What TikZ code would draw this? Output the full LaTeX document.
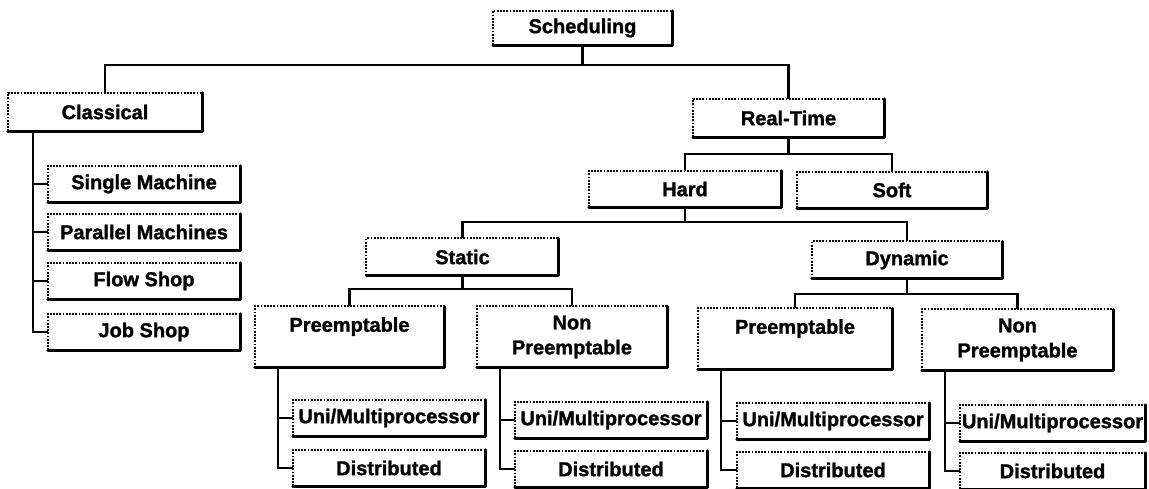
\documentclass[tikz,border=0pt]{standalone}
\usepackage{fontspec}
\setmainfont{Liberation Sans}
\newfontfamily\heavyfont[FakeBold=1.3]{Liberation Sans Bold}
\usepackage{tikz}
\tikzstyle{box}=[minimum width=192pt, minimum height=36pt, inner sep=0pt, align=center, font=\heavyfont\fontsize{20}{25}\selectfont]
\tikzstyle{tallbox}=[box, minimum height=61pt]
\tikzstyle{dotedge}=[line width=1.8pt, dash pattern=on 1.8pt off 1.4pt]
\tikzstyle{shadowedge}=[line width=2.8pt, line cap=round, line join=round]
\tikzstyle{link}=[line width=2.2pt]

\begin{document}
\begin{tikzpicture}[x=1pt, y=-1pt]
                    \useasboundingbox (0,0) rectangle (1149,489);
                    \node[box, minimum width=179pt, minimum height=34pt] (sched) at (582.5, 28) {Scheduling};
                    \node[box, minimum width=194pt, minimum height=38pt] (classic) at (105, 112) {Classical};
                    \node[box, minimum width=191pt, minimum height=38pt] (rt) at (788.5, 118) {Real-Time};
                    % classical list
                    \node[box] (c1) at (144, 184) {Single Machine};
                    \node[box] (c2) at (144, 232) {Parallel Machines};
                    \node[box] (c3) at (144, 281) {Flow Shop};
                    \node[box] (c4) at (144, 332) {Job Shop};
                    % real-time tree
                    \node[box] (hard) at (685, 189) {Hard};
                    \node[box, minimum width=190pt] (soft) at (892, 190) {Soft};
                    \node[box, minimum height=37pt] (stat) at (462.5, 257) {Static};
                    \node[box, minimum height=37pt, minimum width=190pt] (dyn) at (907, 260) {Dynamic};
                    \node[tallbox, minimum width=189pt] (sp)  at (349.5, 337) {Preemptable\\\mbox{}};
                    \node[tallbox, minimum width=190pt] (snp) at (572,   337) {Non\\Preemptable};
                    \node[tallbox, minimum width=194pt] (dp)  at (795,   339) {Preemptable\\\mbox{}};
                    \node[tallbox, minimum width=191pt] (dnp) at (1017.5,340) {Non\\Preemptable};
                    \node[box] (sp1)  at (389,  418) {Uni/Multiprocessor};
                    \node[box] (sp2)  at (389,  468) {Distributed};
                    \node[box] (snp1) at (611,  420) {Uni/Multiprocessor};
                    \node[box] (snp2) at (611,  469) {Distributed};
                    \node[box] (dp1)  at (833,  421) {Uni/Multiprocessor};
                    \node[box] (dp2)  at (833,  470) {Distributed};
                    \node[box, minimum width=185pt] (dnp1) at (1052.5, 423) {Uni/Multiprocessor};
                    \node[box, minimum width=185pt] (dnp2) at (1052.5, 471) {Distributed};
                    % box edges: dotted top and left, heavy right and bottom
                    \foreach \n in {sched,classic,rt,c1,c2,c3,c4,hard,soft,stat,dyn,sp,snp,dp,dnp,sp1,sp2,snp1,snp2,dp1,dp2,dnp1,dnp2} {
                        \draw[dotedge]    (\n.south west) |- (\n.north east);
                        \draw[shadowedge] (\n.north east) |- (\n.south west);
                    }
                    % links
                    \draw[link] (sched.south) -- ++(0,20) -| (classic.north);
                    \draw[link] (sched.south) -- ++(0,20) -| (rt.north);
                    \draw[link] (rt.south)    -- ++(0,17) -| (hard.north);
                    \draw[link] (rt.south)    -- ++(0,17) -| (soft.north);
                    \draw[link] (hard.south)  -- ++(0,15) -| (stat.north);
                    \draw[link] (hard.south)  -- ++(0,15) -| (dyn.north);
                    \draw[link] (stat.south)  -- ++(0,13) -| (sp.north);
                    \draw[link] (stat.south)  -- ++(0,13) -| (snp.north);
                    \draw[link] (dyn.south)   -- ++(0,15) -| (dp.north);
                    \draw[link] (dyn.south)   -- ++(0,15) -| (dnp.north);
                    \foreach \n in {c1,c2,c3,c4}
                        \draw[link] ([xshift=25pt]classic.south west) |- (\n.west);
                    \foreach \p/\a/\b in {sp/sp1/sp2, snp/snp1/snp2, dp/dp1/dp2, dnp/dnp1/dnp2} {
                        \draw[link] ([xshift=23pt]\p.south west) |- (\a.west);
                        \draw[link] ([xshift=23pt]\p.south west) |- (\b.west);
                    }
                \end{tikzpicture}
\end{document}
